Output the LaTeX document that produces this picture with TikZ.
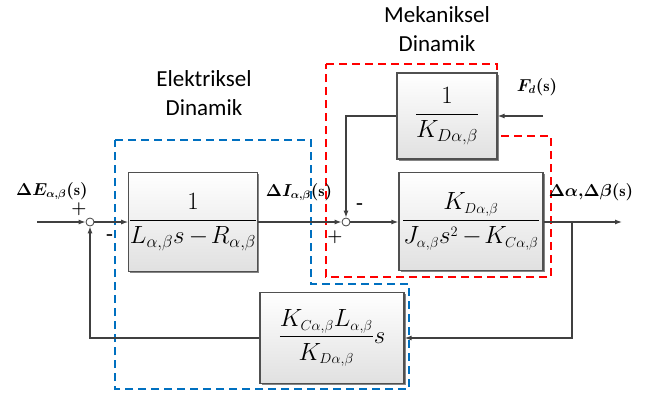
\documentclass[tikz,border=0pt]{standalone}
\usepackage{fontspec}
\usepackage{amsmath}
\usepackage{bm}
\newfontfamily\carlito{Carlito}
\usetikzlibrary{arrows.meta,shadows}
\DeclareMathSizes{28}{28}{16}{12}
\DeclareMathSizes{25}{25}{14.5}{11}
\definecolor{lineg}{RGB}{64,64,64}
\definecolor{boxg}{RGB}{80,80,80}
\definecolor{dblue}{RGB}{0,112,192}
\definecolor{dred}{RGB}{255,0,0}
\begin{document}
\begin{tikzpicture}[x=1pt,y=-1pt,
  blk/.style={draw=boxg, line width=1.2pt, top color=white, bottom color=black!12,
    inner sep=0pt, drop shadow={shadow xshift=1.5pt, shadow yshift=-1.5pt, fill=black!60, opacity=0.8},
    font=\fontsize{28}{32}\selectfont},
  smallfr/.style={font=\fontsize{25}{29}\selectfont},
  sumc/.style={circle, draw=lineg, fill=white, line width=0.8pt, minimum size=8pt, inner sep=0pt},
  sig/.style={draw=lineg, line width=1.2pt, -{Latex[length=7pt,width=5pt]}},
  lbl/.style={font=\carlito\fontsize{23}{29}\selectfont, align=center},
  sgn/.style={font=\fontsize{17}{19}\selectfont\boldmath, inner sep=0pt},
  hyp/.style={font=\fontsize{18}{20}\selectfont\bfseries, inner sep=0pt},
  bl/.style={font=\fontsize{16}{18}\selectfont\boldmath, inner sep=0pt},
  dbox/.style={line width=1.5pt, dash pattern=on 8pt off 5pt}
]
\useasboundingbox (0,0) rectangle (653,396);
% dashed regions
\draw[dbox, dblue] (115,140) -- (311,140) -- (311,284) -- (409,284) -- (409,389) -- (115,389) -- cycle;
\draw[dbox, dred] (326,64) -- (497,64) -- (497,136) -- (551,136) -- (551,277) -- (326,277) -- cycle;
% labels of regions
\node[lbl] (el) at (204,93.5) {Elektriksel\\Dinamik};
\node[lbl] (me) at (437,29) {Mekaniksel\\Dinamik};
% blocks
\node[blk, minimum width=128pt, minimum height=99pt] (b1) at (193,222) {$\displaystyle\frac{1}{L_{\alpha,\beta}s\mkern-1mu-\mkern-2mu R_{\alpha,\beta}}$};
\node[blk, smallfr, minimum width=144pt, minimum height=98pt] (pl) at (471,221.5) {$\displaystyle\frac{K_{D\alpha,\beta}}{J_{\alpha,\beta}s^{2}\mkern-1mu-\mkern-2mu K_{C\alpha,\beta}}$};
\node[blk, minimum width=100pt, minimum height=86pt] (top) at (447,116) {$\displaystyle\frac{1}{K_{D\alpha,\beta}}$};
\node[blk, smallfr, minimum width=144pt, minimum height=91pt] (fb) at (332,338) {$\displaystyle\frac{K_{C\alpha,\beta}L_{\alpha,\beta}}{K_{D\alpha,\beta}}s$};
% summing junctions
\node[sumc] (s1) at (90,222) {};
\node[sumc] (s2) at (346,222) {};
% free ends
\coordinate (in) at (37,222);
\coordinate (out) at (622,222);
\coordinate (br) at (572,222);
\coordinate (fd) at (543,116);
% connectors
\draw[sig] (in) -- (s1.west);
\draw[sig] (s1.east) -- (b1.west |- s1);
\draw[sig] (b1.east |- s2) -- (s2.west);
\draw[sig] (s2.east) -- (pl.west |- s2);
\draw[sig] (pl.east |- out) -- (out);
\draw[sig] (br) |- (fb.east);
\draw[sig] (fb.west) -| (s1.south);
\draw[sig] (fd) -- (top.east);
\draw[sig] (top.west) -| (s2.north);
% signal labels
\node[bl] (le) at (52,191) {$\Delta E_{\alpha,\beta}(\mathrm{s})$};
\node[bl] (li) at (299,192) {$\Delta I_{\alpha,\beta}(\mathrm{s})$};
\node[bl] (lf) at (537,87) {$F_{d}(\mathrm{s})$};
\node[bl] (lo) at (591,192) {$\Delta\alpha{,}\Delta\beta(\mathrm{s})$};
% signs
\node[sgn] (p1) at (79,209) {$+$};
\node[hyp] (m1) at (110,237) {-};
\node[hyp] (m2) at (360,206) {-};
\node[sgn] (p2) at (335,237) {$+$};
\end{tikzpicture}
\end{document}
